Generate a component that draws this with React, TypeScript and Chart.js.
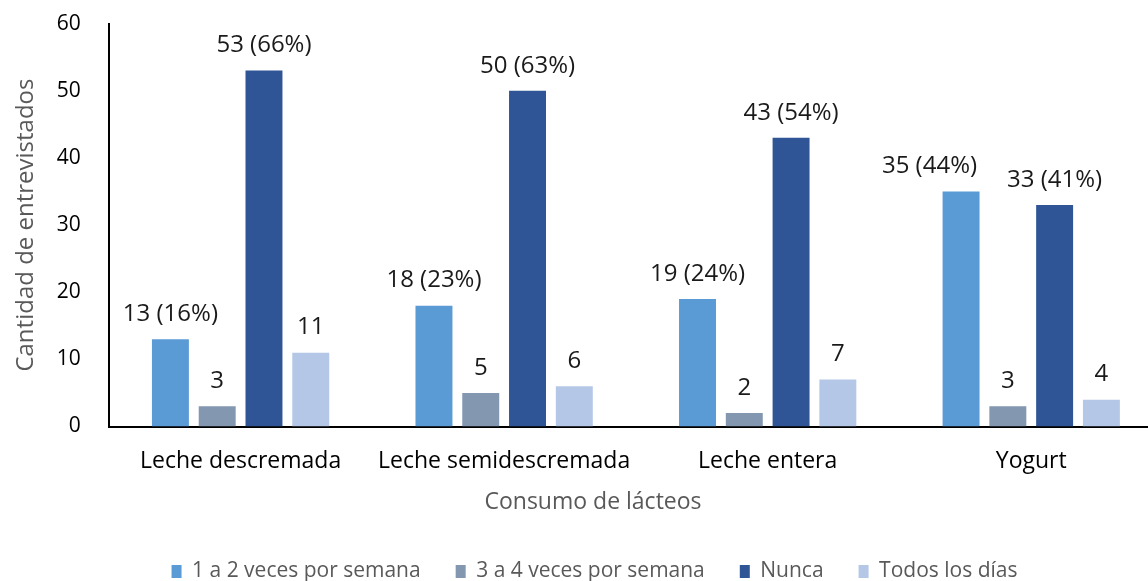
import React, { useEffect, useRef } from "react";
import { Chart, registerables } from "chart.js";

Chart.register(...registerables);

const categories = ["Leche descremada", "Leche semidescremada", "Leche entera", "Yogurt"];
const seriesNames = ["1 a 2 veces por semana", "3 a 4 veces por semana", "Nunca", "Todos los días"];
const unoADos = [13, 18, 19, 35];
const tresACuatro = [3, 5, 2, 3];
const nunca = [53, 50, 43, 33];
const todosLosDias = [11, 6, 7, 4];
const labelsUnoADos = ["13 (16%)", "18 (23%)", "19 (24%)", "35 (44%)"];
const labelsTresACuatro = ["3", "5", "2", "3"];
const labelsNunca = ["53 (66%)", "50 (63%)", "43 (54%)", "33 (41%)"];
const labelsTodos = ["11", "6", "7", "4"];
const yTicks = [0, 10, 20, 30, 40, 50, 60];
const xTitle = "Consumo de lácteos";
const yTitle = "Cantidad de entrevistados";

const colors = ["#5B9BD5", "#8497B0", "#2F5597", "#B4C7E7"];
const FONT = "'Open Sans', sans-serif";
const X_TITLE_SIZE = 23;
const X_TITLE_PAD_BOTTOM = 9.7;
const LABEL_SIZE = 24;
const LABEL_OFFSET = 25;
const LABEL_MIN_GAP = 30;

const valueLabels = {
  id: "valueLabels",
  afterLayout(chart: any) {
    // centre the legend on the figure (as in the source) instead of the padded box
    const lg = chart.legend;
    if (lg) {
      lg.left += 13;
      lg.right += 13;
    }
  },
  afterDatasetsDraw(chart: any) {
    const ctx = chart.ctx;
    const all = [labelsUnoADos, labelsTresACuatro, labelsNunca, labelsTodos];
    ctx.save();
    ctx.font = `${LABEL_SIZE}px ${FONT}`;
    ctx.fillStyle = "#1a1a1a";
    ctx.textAlign = "center";
    ctx.textBaseline = "middle";
    const n = categories.length;
    for (let i = 0; i < n; i++) {
      const items = chart.data.datasets.map((ds: any, di: number) => {
        const bar = chart.getDatasetMeta(di).data[i];
        const text = all[di][i];
        const w = ctx.measureText(text).width;
        return { text, x: bar.x, y: bar.y - LABEL_OFFSET, w };
      });
      // nudge a label left when it would collide with the next one (like the source)
      for (let k = items.length - 2; k >= 0; k--) {
        for (let m = k + 1; m < items.length; m++) {
          const a = items[k];
          const b = items[m];
          if (Math.abs(a.y - b.y) < LABEL_SIZE * 1.1) {
            const gap = b.x - b.w / 2 - (a.x + a.w / 2);
            if (gap < LABEL_MIN_GAP) a.x -= LABEL_MIN_GAP - gap;
          }
        }
      }
      items.forEach((it: any) => ctx.fillText(it.text, it.x, it.y));
    }
    // x axis title, centred on the figure rather than on the plot area
    const s = chart.scales.x;
    ctx.font = `${X_TITLE_SIZE}px ${FONT}`;
    ctx.fillStyle = "#595959";
    ctx.fillText(xTitle, chart.width / 2 - 2, s.bottom - X_TITLE_PAD_BOTTOM - (X_TITLE_SIZE * 1.2) / 2);
    ctx.restore();
  },
};

export default function App() {
  const ref = useRef<HTMLCanvasElement>(null);
  useEffect(() => {
    document.body.style.margin = "0";
    const chart = new Chart(ref.current!, {
      type: "bar",
      data: {
        labels: categories,
        datasets: [unoADos, tresACuatro, nunca, todosLosDias].map((d, i) => ({
          label: seriesNames[i],
          data: d,
          backgroundColor: colors[i],
          categoryPercentage: 0.71,
          barPercentage: 0.79,
        })),
      },
      options: {
        responsive: false,
        animation: false,
        layout: { padding: { top: 0, right: 27, left: 0, bottom: 2 } },
        plugins: {
          legend: {
            position: "bottom",
            labels: {
              font: { family: FONT, size: 21 },
              color: "#595959",
              boxWidth: 10,
              boxHeight: 13,
              padding: 35,
            },
          },
          tooltip: { enabled: false },
        },
        scales: {
          x: {
            grid: { display: false, drawTicks: false },
            border: { display: true, color: "#000", width: 2 },
            ticks: { font: { family: FONT, size: 23 }, color: "#000", padding: 21 },
            title: {
              display: true,
              text: xTitle,
              font: { family: FONT, size: X_TITLE_SIZE },
              color: "rgba(0,0,0,0)",
              padding: { top: -7.4, bottom: X_TITLE_PAD_BOTTOM },
            },
          },
          y: {
            min: 0,
            max: 60,
            afterBuildTicks(scale: any) {
              scale.ticks = yTicks.map((v) => ({ value: v }));
            },
            grid: { display: false, drawTicks: false },
            border: { display: true, color: "#000", width: 2 },
            ticks: { font: { family: FONT, size: 21 }, color: "#000", padding: 28 },
            title: {
              display: true,
              text: yTitle,
              font: { family: FONT, size: 24 },
              color: "#595959",
              padding: { top: 12, bottom: -12 },
            },
          },
        },
      },
      plugins: [valueLabels],
    });
    return () => chart.destroy();
  }, []);
  return (
    <div style={{ position: "relative", width: 1148, height: 581, overflow: "hidden" }}>
      <canvas
        ref={ref}
        width={1190}
        height={611}
        style={{ display: "block", position: "absolute", left: 0, top: -17 }}
      />
    </div>
  );
}
